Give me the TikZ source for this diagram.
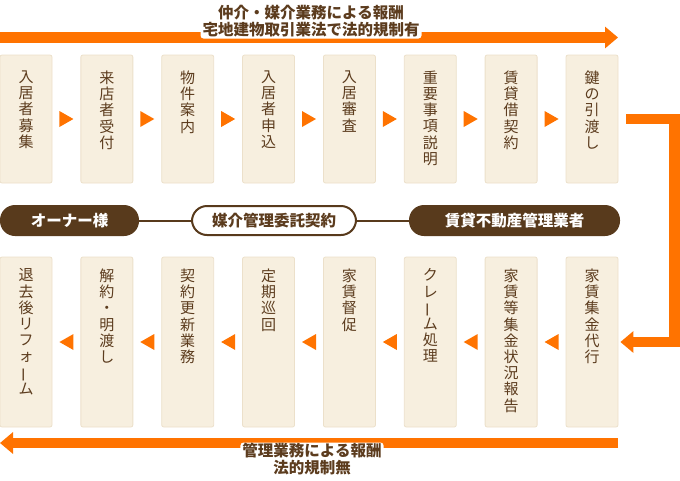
\documentclass[tikz,border=0pt]{standalone}
\usepackage{fontspec}
\setmainfont{Noto Sans CJK JP}
\usepackage{graphicx}
\usetikzlibrary{arrows.meta, positioning, decorations.markings}
\definecolor{flowor}{RGB}{255,115,0}
\definecolor{boxfill}{RGB}{247,239,223}
\definecolor{boxline}{RGB}{236,224,202}
\definecolor{inkbrown}{RGB}{92,60,30}
\definecolor{pillbrown}{RGB}{88,58,28}
\newcommand{\vchou}{\rotatebox[origin=c]{90}{ー}}

\begin{document}
\begin{tikzpicture}[x=1pt, y=-1pt,
    stepbox/.style={draw=boxline, fill=boxfill, line width=0.8pt, rounded corners=2pt,
      minimum width=52pt, inner sep=0pt},
    steptext/.style={anchor=north, inner sep=0pt, align=center, text=inkbrown,
      font=\fontsize{15}{16.2}\selectfont},
    flow/.style={postaction={decorate}, decoration={markings,
      mark=at position 0.5 with {\fill[flowor] (-7,-8) -- (7,0) -- (-7,8) -- cycle;}}},
    bigarrow/.style={draw=flowor, line width=10.5pt, -{Triangle[length=13pt, width=21pt]}},
    pill/.style={fill=pillbrown, text=white, rounded corners=15pt, minimum height=31pt,
      inner sep=0pt, font=\bfseries\fontsize{15.5}{17}\selectfont},
    link/.style={draw=pillbrown, line width=2pt},
    note/.style={fill=white, rounded corners=3pt, inner xsep=2pt, inner ysep=1pt,
      text height=13pt, text depth=2pt, text=inkbrown,
      font=\bfseries\fontsize{15.5}{17}\selectfont}]
  \useasboundingbox (0,0) rectangle (680,480);

  % Upper row: steps up to handing over the keys
  \foreach \i/\txt in {1/{入\\居\\者\\募\\集}, 2/{来\\店\\者\\受\\付}, 3/{物\\件\\案\\内},
      4/{入\\居\\者\\申\\込}, 5/{入\\居\\審\\査}, 6/{重\\要\\事\\項\\説\\明},
      7/{賃\\貸\\借\\契\\約}, 8/{鍵\\の\\引\\渡\\し}} {
    \node[stepbox, minimum height=128pt] (t\i) at ({26+80.857*(\i-1)}, 119) {};
    \node[steptext] (t\i-txt) at ([yshift=-16pt]t\i.north) {\txt};
  }
  \foreach \i [evaluate=\i as \j using int(\i+1)] in {1,...,7}
    \path[flow] (t\i) -- (t\j);

  % Lower row: management work, right to left
  \foreach \i/\txt in {1/{家\\賃\\集\\金\\代\\行}, 2/{家\\賃\\等\\集\\金\\状\\況\\報\\告},
      3/{ク\\レ\\\vchou\\ム\\処\\理}, 4/{家\\賃\\督\\促}, 5/{定\\期\\巡\\回},
      6/{契\\約\\更\\新\\業\\務}, 7/{解\\約\\・\\明\\渡\\し},
      8/{退\\去\\後\\リ\\フ\\ォ\\\vchou\\ム}} {
    \node[stepbox, minimum height=170pt] (b\i) at ({592-80.857*(\i-1)}, 342) {};
    \node[steptext] (b\i-txt) at ([yshift=-12pt]b\i.north) {\txt};
  }
  \foreach \i [evaluate=\i as \j using int(\i+1)] in {1,...,7}
    \path[flow] (b\i) -- (b\j);

  % Middle band
  \node[pill, minimum width=139pt] (owner) at (69.5,220.5) {オーナー様};
  \node[pill, minimum width=164pt, minimum height=29pt, fill=white, draw=pillbrown,
    line width=2pt, text=inkbrown] (contract) at (274,220.5) {媒介管理委託契約};
  \node[pill, minimum width=211pt] (manager) at (514.5,220.5) {賃貸不動産管理業者};
  \draw[link] (owner) -- (contract);
  \draw[link] (contract) -- (manager);

  % Big arrows
  \coordinate (topL) at (0,37.5);
  \coordinate (topR) at (618,37.5);
  \coordinate (botR) at (618,443);
  \coordinate (botL) at (0,443);
  \draw[bigarrow] (topL) -- (topR);
  \draw[bigarrow] ([xshift=8pt]t8.east) -- ++(48,0) |- ([xshift=2pt]b1.east);
  \draw[bigarrow] (botR) -- (botL);

  \node[note] (feeTop1) at (311,13) {仲介・媒介業務による報酬};
  \node[note] (feeTop2) at (311,30) {宅地建物取引業法で法的規制有};
  \node[note] (feeBot1) at (312,451) {管理業務による報酬};
  \node[note] (feeBot2) at (312,468) {法的規制無};
\end{tikzpicture}
\end{document}
